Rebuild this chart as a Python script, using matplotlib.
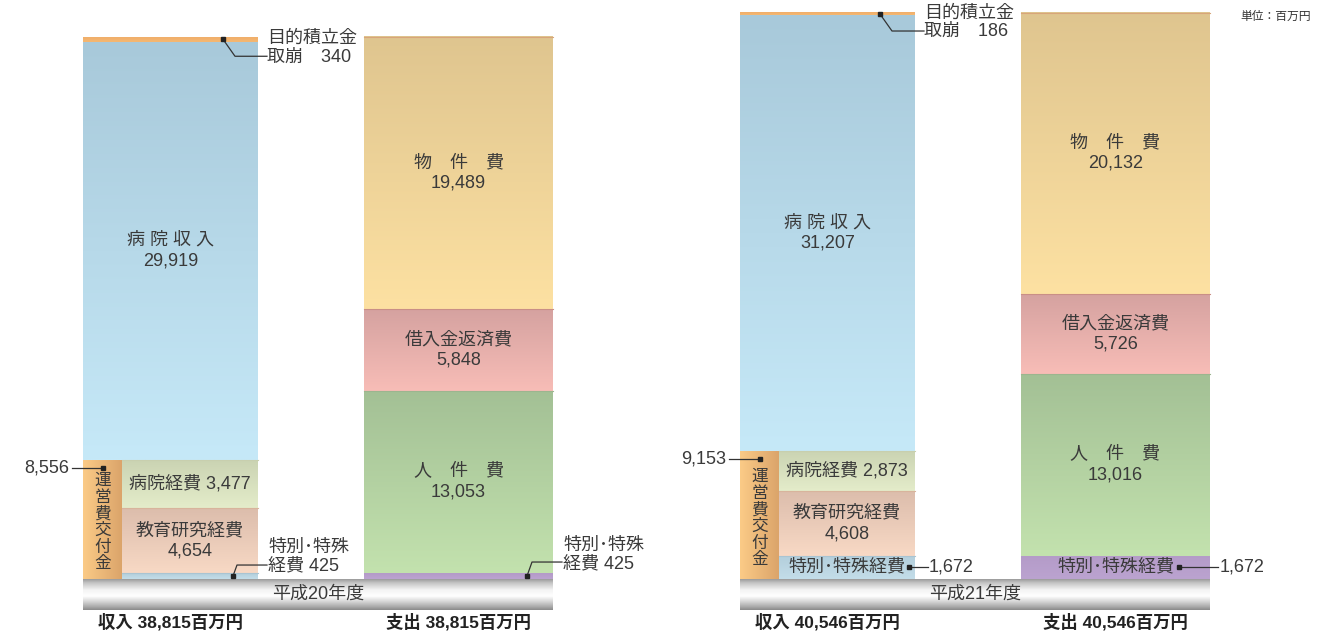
import numpy as np
import matplotlib.pyplot as plt
from matplotlib.colors import LinearSegmentedColormap

plt.rcParams['font.family'] = ['Liberation Sans', 'Noto Sans CJK JP']

# 年度
years = ['平成20年度', '平成21年度']

# 収入（百万円）
hospital_income = [29919, 31207]       # 病院収入
reserve_withdrawal = [340, 186]        # 目的積立金取崩
grant_hospital = [3477, 2873]          # 運営費交付金：病院経費
grant_education = [4654, 4608]         # 運営費交付金：教育研究経費
grant_special = [425, 1672]            # 運営費交付金：特別・特殊経費

# 支出（百万円）
exp_special = [425, 1672]              # 特別・特殊経費
exp_personnel = [13053, 13016]         # 人件費
exp_loan = [5848, 5726]                # 借入金返済費
exp_goods = [19489, 20132]             # 物件費

K = 71.6            # 百万円 / px
TXT = '#3a3a3a'

fig = plt.figure(figsize=(13.23, 6.32), dpi=100)
ax = fig.add_axes([0, 0, 1, 1])
ax.set_axis_off()


def px(n):
    return n * K


def grad_box(x0, x1, y0, y1, c_top, c_bot, edge=None):
    cmap = LinearSegmentedColormap.from_list('g', [c_bot, c_top])
    g = np.linspace(0, 1, 256).reshape(-1, 1)
    ax.imshow(g, extent=[x0, x1, y0, y1], origin='lower', aspect='auto',
              cmap=cmap, interpolation='bilinear', zorder=1)
    if edge:
        ax.plot([x0, x1], [y1, y1], color=edge, lw=0.8, zorder=2)


def leader(pts, text, tx, ty, ha='left'):
    xs, ys = zip(*pts)
    ax.plot(xs, ys, color='#333333', lw=0.9, zorder=4)
    ax.plot(xs[0], ys[0], 's', color='#222222', ms=2.6, zorder=5)
    ax.text(tx, ty, text, ha=ha, va='center', fontsize=13, color=TXT,
            linespacing=1.1, zorder=5)


band_cmap = LinearSegmentedColormap.from_list('band', [
    (0.0, '#9a9a9a'), (0.12, '#c4c4c4'), (0.35, '#f4f4f4'),
    (0.55, '#ffffff'), (0.75, '#d0d0d0'), (0.9, '#a8a8a8'), (1.0, '#8a8a8a')])

panel_x = [83, 740]
col_w, inc_w, exp_off, exp_w = 39, 175, 281, 189

for i, x0 in enumerate(panel_x):
    cx1 = x0 + col_w
    ix1 = x0 + inc_w
    ex0 = x0 + exp_off
    ex1 = ex0 + exp_w

    # ---- 収入 ----
    grant = grant_special[i] + grant_education[i] + grant_hospital[i]
    inc_total = grant + hospital_income[i] + reserve_withdrawal[i]

    b1 = grant_special[i]
    b2 = b1 + grant_education[i]
    b3 = b2 + grant_hospital[i]
    grad_box(cx1, ix1, 0, b1, '#b3cedb', '#c3dde9', edge='#a9c4d2')
    grad_box(cx1, ix1, b1, b2, '#dcbdac', '#f8d9c5', edge='#d8b49c')
    grad_box(cx1, ix1, b2, b3, '#cad3b2', '#e4ecca', edge='#c8cfae')
    # 運営費交付金は横方向のグラデーション
    cm = LinearSegmentedColormap.from_list('o', ['#fbcb87', '#dba46a'])
    ax.imshow(np.linspace(0, 1, 256).reshape(1, -1),
              extent=[x0, cx1, 0, grant], origin='lower', aspect='auto',
              cmap=cm, interpolation='bilinear', zorder=1)
    grad_box(x0, ix1, grant, grant + hospital_income[i], '#a8c9da', '#c6e9f8')
    grad_box(x0, ix1, grant + hospital_income[i], inc_total, '#f0ae6a', '#f5b872')

    # ---- 支出 ----
    e1 = exp_special[i]
    e2 = e1 + exp_personnel[i]
    e3 = e2 + exp_loan[i]
    e4 = e3 + exp_goods[i]
    grad_box(ex0, ex1, 0, e1, '#b49bc8', '#bba3d0')
    grad_box(ex0, ex1, e1, e2, '#a3c095', '#c3e2ae', edge='#9cb58f')
    grad_box(ex0, ex1, e2, e3, '#d5a2a0', '#f8bdb7', edge='#c98f86')
    grad_box(ex0, ex1, e3, e4, '#dfc58f', '#fde1a2', edge='#d8a57a')

    # ---- 年度の帯 ----
    ax.imshow(np.linspace(0, 1, 256).reshape(-1, 1), extent=[x0, ex1, px(-31), 0],
              origin='lower', aspect='auto', cmap=band_cmap.reversed(),
              interpolation='bilinear', zorder=1)
    ax.text((x0 + ex1) / 2, px(-15.5), years[i], ha='center', va='center',
            fontsize=13, color=TXT, zorder=5)

    # ---- 合計 ----
    exp_total = e4
    ax.text((x0 + ix1) / 2, px(-43), f'収入 {inc_total:,}百万円', ha='center',
            va='center', fontsize=12.5, fontweight='bold', color='#222222')
    ax.text((ex0 + ex1) / 2, px(-43), f'支出 {exp_total:,}百万円', ha='center',
            va='center', fontsize=12.5, fontweight='bold', color='#222222')

    # ---- セグメント内ラベル ----
    kw = dict(ha='center', va='center', fontsize=13, color=TXT,
              linespacing=1.25, zorder=5)
    sub_c = (cx1 + ix1) / 2
    ax.text((x0 + ix1) / 2, grant + hospital_income[i] / 2,
            f'病 院 収 入\n{hospital_income[i]:,}', **kw)
    ax.text(sub_c, (b2 + b3) / 2, f'病院経費 {grant_hospital[i]:,}', **kw)
    ax.text(sub_c, (b1 + b2) / 2, f'教育研究経費\n{grant_education[i]:,}', **kw)
    ax.text((x0 + cx1) / 2, grant / 2 - px(3), '\n'.join('運営費交付金'), ha='center',
            va='center', fontsize=12, color=TXT, linespacing=1.12, zorder=5)
    ax.text((ex0 + ex1) / 2, (e3 + e4) / 2, f'物　件　費\n{exp_goods[i]:,}', **kw)
    ax.text((ex0 + ex1) / 2, (e2 + e3) / 2, f'借入金返済費\n{exp_loan[i]:,}', **kw)
    ax.text((ex0 + ex1) / 2, (e1 + e2) / 2, f'人　件　費\n{exp_personnel[i]:,}', **kw)

    # ---- 引出し線 ----
    gy = grant - px(8)
    leader([(x0 + 19.5, gy), (x0 - 11, gy)], f'{grant:,}', x0 - 14, gy, ha='right')

    ry = inc_total - reserve_withdrawal[i] / 2
    leader([(ix1 - 35, ry), (ix1 - 23, ry - px(17)), (ix1 + 9, ry - px(17))],
           f'目的積立金\n取崩　{reserve_withdrawal[i]:,}', ix1 + 9, ry - px(8.5))

    if grant_special[i] > 1000:
        sy = grant_special[i] / 2
        ax.text(sub_c, sy, '特別･特殊経費', **kw)
        leader([(ix1 - 6, sy), (ix1 + 13, sy)], f'{grant_special[i]:,}', ix1 + 14, sy)
        ey = exp_special[i] / 2
        ax.text((ex0 + ex1) / 2, ey, '特別･特殊経費', **kw)
        leader([(ex1 - 31, ey), (ex1 + 8, ey)], f'{exp_special[i]:,}', ex1 + 10, ey)
    else:
        sy = grant_special[i] / 2
        leader([(ix1 - 25, sy), (ix1 - 21, sy + px(11)), (ix1 + 9, sy + px(11))],
               f'特別･特殊\n経費 {grant_special[i]:,}', ix1 + 10, sy + px(19.5))
        ey = exp_special[i] / 2
        leader([(ex1 - 26, ey), (ex1 - 21, ey + px(14)), (ex1 + 9, ey + px(14))],
               f'特別･特殊\n経費 {exp_special[i]:,}', ex1 + 10, ey + px(21.5))

ax.text(1240, px(579 - 17), '単位：百万円', ha='left', va='center',
        fontsize=8.5, color='#333333')

ax.set_xlim(0, 1323)
ax.set_ylim(px(-53), px(579))

fig.savefig('out.png', dpi=100)
